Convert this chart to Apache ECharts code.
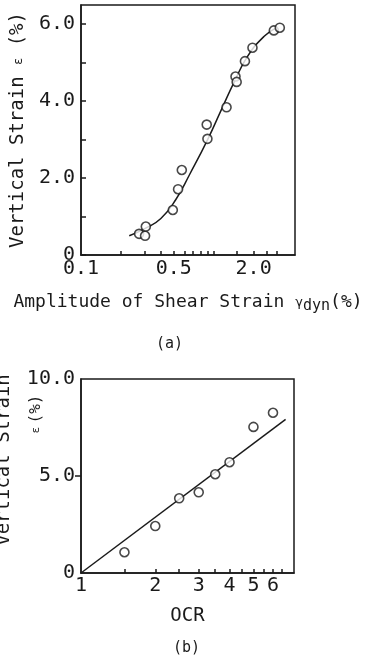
<!DOCTYPE html>
<html>
<head>
<meta charset="utf-8">
<script src="https://cdn.jsdelivr.net/npm/echarts@6/dist/echarts.min.js"></script>
<style>
  html, body { margin: 0; padding: 0; background: #fff; }
  #chart { width: 382px; height: 658px; }
</style>
</head>
<body>
<div id="chart"></div>
<script>
// (a) vertical strain vs amplitude of shear strain
const shearX = [0.274, 0.304, 0.308, 0.492, 0.539, 0.575, 0.897, 0.886, 1.25, 1.46, 1.49, 1.72, 1.96, 2.84, 3.15]
const shearY = [0.55, 0.50, 0.74, 1.17, 1.71, 2.21, 3.02, 3.39, 3.84, 4.64, 4.50, 5.04, 5.39, 5.84, 5.91]
const shearCurveX = [0.231, 0.30, 0.40, 0.52, 0.66, 0.90, 1.15, 1.42, 1.79, 2.39, 3.01]
const shearCurveY = [0.50, 0.68, 0.95, 1.45, 2.10, 3.00, 3.80, 4.48, 5.15, 5.68, 5.92]
const shearTickLabels = [0.1, 0.5, 2.0]
const shearTicks = [0.2, 0.3, 0.4, 0.5, 0.6, 0.7, 0.8, 0.9, 1, 1.5, 2, 2.5, 3]
const strainTickLabelsA = [0, 2, 4, 6]

// (b) vertical strain vs OCR
const ocrX = [1.5, 2, 2.5, 3, 3.5, 4, 5, 6]
const ocrY = [1.07, 2.42, 3.85, 4.16, 5.09, 5.71, 7.53, 8.26]
const ocrLineX = [1, 6.75]
const ocrLineY = [0, 7.92]
const ocrTickLabels = [1, 2, 3, 4, 5, 6]
const ocrTicks = [1.5, 2, 2.5, 3, 3.5, 4, 4.5, 5, 5.5, 6, 6.5]
const strainTickLabelsB = [0, 5, 10]

const FONT = '"DejaVu Sans Mono", monospace'
const INK = '#1a1a1a'

const chart = echarts.init(document.getElementById('chart'))

const zip = (xs, ys) => xs.map((x, i) => [x, ys[i]])
const fmt1 = v => (v === 0 ? '0' : (+v).toFixed(1))

const option = {
  animation: false,
  textStyle: { fontFamily: FONT, color: INK },
  title: [
    { text: '(a)', left: 151, top: 332, textStyle: { fontFamily: FONT, fontSize: 15, fontWeight: 'normal', color: INK } },
    { text: '(b)', left: 168, top: 636, textStyle: { fontFamily: FONT, fontSize: 15, fontWeight: 'normal', color: INK } }
  ],
  grid: [
    { left: 81, top: 5, width: 214, height: 250, show: true, borderColor: INK, borderWidth: 1.5 },
    { left: 81, top: 379, width: 213, height: 194, show: true, borderColor: INK, borderWidth: 1.5 }
  ],
  xAxis: [
    {
      gridIndex: 0,
      type: 'log',
      min: 0.1,
      max: 4.1,
      name: '{t|Amplitude of Shear Strain }{g|γ}{s|dyn}{t|(%)}',
      nameLocation: 'middle',
      nameGap: 36,
      nameTextStyle: {
        rich: {
          t: { fontFamily: FONT, fontSize: 18, color: INK },
          g: { fontFamily: FONT, fontSize: 13, color: INK },
          s: { fontFamily: FONT, fontSize: 15, color: INK, padding: [8, 0, 0, 0] }
        }
      },
      axisLine: { lineStyle: { color: INK, width: 1.5 } },
      axisTick: { inside: true, length: 4, customValues: shearTicks, lineStyle: { color: INK, width: 1.5 } },
      minorTick: { show: false },
      axisLabel: { customValues: shearTickLabels, formatter: fmt1, margin: 4, fontFamily: FONT, fontSize: 20, color: INK },
      splitLine: { show: false }
    },
    {
      gridIndex: 1,
      type: 'log',
      min: 1,
      max: 7.3,
      name: 'OCR',
      nameLocation: 'middle',
      nameGap: 34,
      nameTextStyle: { fontFamily: FONT, fontSize: 19, color: INK },
      axisLine: { lineStyle: { color: INK, width: 1.5 } },
      axisTick: { inside: true, length: 4, customValues: ocrTicks, lineStyle: { color: INK, width: 1.5 } },
      axisLabel: { customValues: ocrTickLabels, formatter: v => String(Math.round(v)), margin: 3, fontFamily: FONT, fontSize: 20, color: INK },
      splitLine: { show: false }
    }
  ],
  yAxis: [
    {
      gridIndex: 0,
      type: 'value',
      min: 0,
      max: 6.5,
      name: '{t|Vertical Strain }{e|ε}{t| (%)}',
      nameLocation: 'middle',
      nameGap: 41,
      nameTextStyle: {
        rich: {
          t: { fontFamily: FONT, fontSize: 19, color: INK },
          e: { fontFamily: FONT, fontSize: 12, color: INK }
        }
      },
      axisLine: { lineStyle: { color: INK, width: 1.5 } },
      axisTick: { inside: true, length: 5, customValues: [0, 1, 2, 3, 4, 5, 6], lineStyle: { color: INK, width: 1.5 } },
      axisLabel: { customValues: strainTickLabelsA, formatter: fmt1, margin: 6, fontFamily: FONT, fontSize: 20, color: INK },
      splitLine: { show: false }
    },
    {
      gridIndex: 1,
      type: 'value',
      min: 0,
      max: 10,
      axisLine: { lineStyle: { color: INK, width: 1.5 } },
      axisTick: { inside: false, length: 6, customValues: [5], lineStyle: { color: INK, width: 1.5 } },
      axisLabel: { customValues: strainTickLabelsB, formatter: fmt1, margin: 6, fontFamily: FONT, fontSize: 20, color: INK },
      splitLine: { show: false }
    }
  ],
  graphic: [
    {
      type: 'text', x: 4, y: 460, rotation: Math.PI / 2,
      style: { text: 'Vertical Strain', font: '19px ' + FONT, fill: INK, align: 'center', verticalAlign: 'middle' }
    },
    {
      type: 'text', x: 36, y: 414, rotation: Math.PI / 2,
      style: {
        text: '{e|ε} {t|(%)}',
        align: 'center', verticalAlign: 'middle',
        rich: {
          t: { fontFamily: FONT, fontSize: 16, fill: INK },
          e: { fontFamily: FONT, fontSize: 11, fill: INK }
        }
      }
    }
  ],
  series: [
    {
      type: 'line', xAxisIndex: 0, yAxisIndex: 0,
      data: zip(shearCurveX, shearCurveY),
      smooth: 0.5, symbol: 'none',
      lineStyle: { color: INK, width: 1.5 }, z: 2
    },
    {
      type: 'scatter', xAxisIndex: 0, yAxisIndex: 0,
      data: zip(shearX, shearY),
      symbol: 'circle', symbolSize: 9,
      itemStyle: { color: '#fff', borderColor: INK, borderWidth: 1.6 }, z: 3
    },
    {
      type: 'line', xAxisIndex: 1, yAxisIndex: 1,
      data: zip(ocrLineX, ocrLineY),
      symbol: 'none',
      lineStyle: { color: INK, width: 1.5 }, z: 2
    },
    {
      type: 'scatter', xAxisIndex: 1, yAxisIndex: 1,
      data: zip(ocrX, ocrY),
      symbol: 'circle', symbolSize: 9,
      itemStyle: { color: '#fff', borderColor: INK, borderWidth: 1.6 }, z: 3
    }
  ]
}

chart.setOption(option)
</script>
</body>
</html>
